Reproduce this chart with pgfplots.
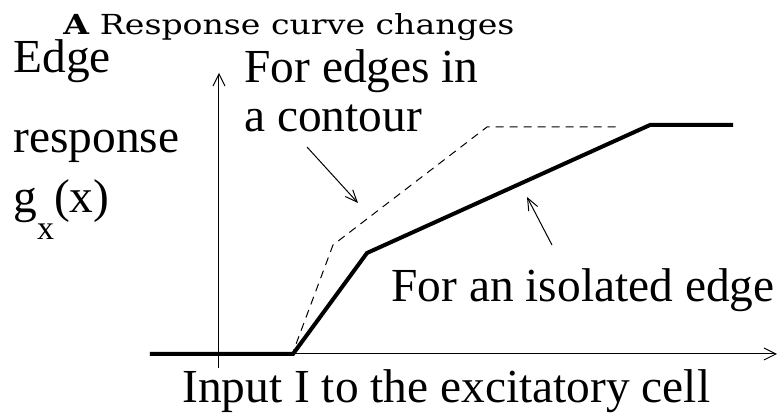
\documentclass[border=0pt]{standalone}
\usepackage{fontspec}
\setmainfont{Liberation Serif}
\newfontfamily\titlefont[FakeStretch=1.2]{DejaVu Serif}
\usepackage{pgfplots}
\pgfplotsset{compat=1.18}
\usetikzlibrary{arrows.meta}
\begin{document}
\begin{tikzpicture}
\begin{axis}[
  scale only axis,
  width=313.5pt, height=147.5pt,
  xmin=-69, xmax=558, ymin=-14, ymax=281,
  axis lines=middle,
  axis line style={line width=0.5pt, -{Straight Barb[length=6pt,width=6pt]}},
  xtick=\empty, ytick=\empty,
  clip=false,
]
\path (axis cs:-219,-62) rectangle (axis cs:563,354);
% dashed: edges in a contour
\addplot[black, line width=0.5pt, dash pattern=on 4pt off 3pt] coordinates {
  (-69,-1) (73,-1) (114,109) (268,227) (400,227)
};
% solid: isolated edge
\addplot[black, line width=2pt] coordinates {
  (-69,0) (74,0) (148,101) (431,229) (514,229)
};
\draw[line width=0.5pt, -{Straight Barb[length=6pt,width=5pt]}] (axis cs:88,207) -- (axis cs:139,151);
\draw[line width=0.5pt, -{Straight Barb[length=6pt,width=5pt]}] (axis cs:333,109) -- (axis cs:308,157);
\begin{scope}[every node/.style={inner sep=0pt, font=\fontsize{23.7}{28}\selectfont}]
\node[anchor=base west] at (axis cs:-206,281) {Edge};
\node[anchor=base west] at (axis cs:-206,201) {response};
\node[anchor=base west] at (axis cs:-206,141) {g\raisebox{-13.5pt}{\fontsize{17}{17}\selectfont x}(x)};
\node[anchor=base west] at (axis cs:25,271) {For edges in};
\node[anchor=base west] at (axis cs:25,222) {a contour};
\node[anchor=base east] at (axis cs:556,52) {For an isolated edge};
\node[anchor=base west] at (axis cs:-37,-49) {Input I to the excitatory cell};
\end{scope}
\node[anchor=base west, inner sep=0pt, font=\titlefont\fontsize{13.8}{16}\selectfont] at (axis cs:-156,319) {\textbf{A} Response curve changes};
\end{axis}
\end{tikzpicture}
\end{document}
